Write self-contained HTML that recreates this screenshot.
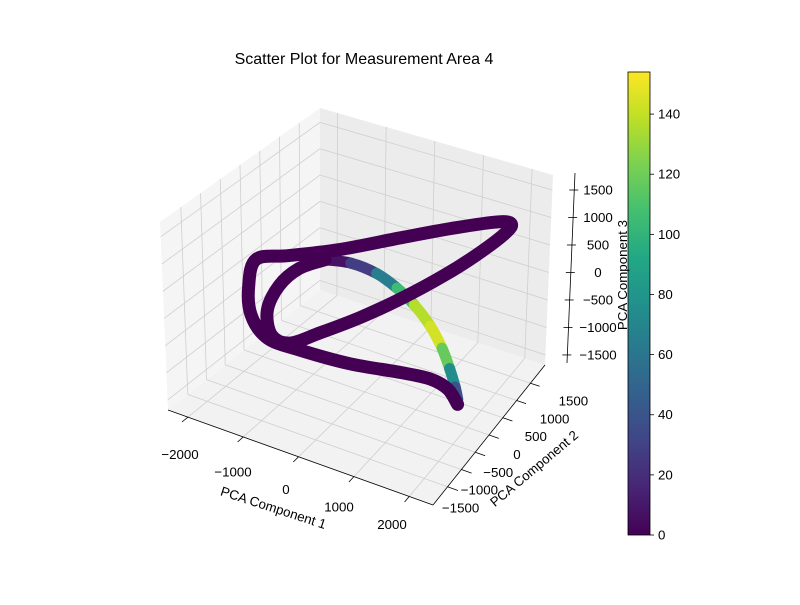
<!DOCTYPE html>
<html><head><meta charset="utf-8"><style>
body{margin:0;background:#fff;}
svg text{font-family:"Liberation Sans","DejaVu Sans",sans-serif;}
</style></head><body>
<svg id="c" width="800" height="600" viewBox="0 0 800 600" xmlns="http://www.w3.org/2000/svg">
<defs>
<linearGradient id="vir" x1="0" y1="1" x2="0" y2="0">
<stop offset="0" stop-color="#440154"/><stop offset="0.1" stop-color="#482475"/><stop offset="0.2" stop-color="#414487"/><stop offset="0.3" stop-color="#355f8d"/><stop offset="0.4" stop-color="#2a788e"/><stop offset="0.5" stop-color="#21918c"/><stop offset="0.6" stop-color="#22a884"/><stop offset="0.7" stop-color="#44bf70"/><stop offset="0.8" stop-color="#7ad151"/><stop offset="0.9" stop-color="#bddf26"/><stop offset="1" stop-color="#fde725"/>
</linearGradient>
</defs>
<text x="364" y="64" font-size="16" text-anchor="middle">Scatter Plot for Measurement Area 4</text>
<g id="box"></g><g id="marks"></g><g id="axes"></g>
<rect x="628" y="72" width="22" height="463" fill="url(#vir)" stroke="#000" stroke-width="0.8"/>
<g id="cbar"></g>
<text transform="translate(272,512) rotate(18)" font-size="13.3" text-anchor="middle">PCA Component 1</text>
<text transform="translate(537,472) rotate(-40)" font-size="13.3" text-anchor="middle">PCA Component 2</text>
<text transform="translate(627,275) rotate(-90)" font-size="13.3" text-anchor="middle">PCA Component 3</text>
</svg>
<script>
const pc1=[1804,1609,1276,690,-288,-1265,-1891,-2204,-2243,-2086,-1461,-483,690,1667,2449,2684,2547,2058,1472,690,-92,-874,-1461,-1813,-1891,-1656,-1265,-776];
const pc3=[-1336,-1124,-1049,-1111,-1264,-1326,-1310,-988,-450,98,357,767,1330,1780,2100,2120,1900,1400,870,230,-354,-885,-1260,-1229,-795,-259,181,488];
const arc1=[-776,-288,201,592,924,1237,1472,1628,1746,1804];
const arc3=[488,574,532,383,179,-106,-433,-749,-1042,-1244];
const arcVal=[5,10,45,85,125,148,140,95,55,25];
const xTicks=[-2000,-1000,0,1000,2000];
const yTicks=[-1500,-1000,-500,0,500,1000,1500];
const zTicks=[-1500,-1000,-500,0,500,1000,1500];
const cTicks=[0,20,40,60,80,100,120,140];
const XMIN=-2360,XMAX=2430,YMIN=-2027,YMAX=2027,ZMIN=-1683,ZMAX=1773,CMAX=154;
const NS="http://www.w3.org/2000/svg";
const L=[168,410],F=[433,505],R=[545,365],B=[320,290];
const LT=[160,222],FT=[441,305],RT=[553,175],BT=[320,108];
function bil(a,b,c,d,u,v){return [(1-u)*(1-v)*a[0]+u*(1-v)*b[0]+u*v*c[0]+(1-u)*v*d[0],(1-u)*(1-v)*a[1]+u*(1-v)*b[1]+u*v*c[1]+(1-u)*v*d[1]];}
function proj(u,v,w){const f=bil(L,F,R,B,u,v),t=bil(LT,FT,RT,BT,u,v);return [(1-w)*f[0]+w*t[0],(1-w)*f[1]+w*t[1]];}
const sx=x=>(x-XMIN)/(XMAX-XMIN), sy=y=>(y-YMIN)/(YMAX-YMIN), sz=z=>(z-ZMIN)/(ZMAX-ZMIN);
function P(x,y,z){return proj(sx(x),sy(y),sz(z));}
function el(tag,attrs,parent){const e=document.createElementNS(NS,tag);for(const k in attrs)e.setAttribute(k,attrs[k]);document.getElementById(parent).appendChild(e);return e;}
function pts(a){return a.map(p=>p[0].toFixed(1)+','+p[1].toFixed(1)).join(' ');}
function smooth(p){let d='M'+p[0][0].toFixed(1)+','+p[0][1].toFixed(1);
 for(let i=0;i<p.length-1;i++){const p0=p[Math.max(0,i-1)],p1=p[i],p2=p[i+1],p3=p[Math.min(p.length-1,i+2)];
  const c1=[p1[0]+(p2[0]-p0[0])/6,p1[1]+(p2[1]-p0[1])/6],c2=[p2[0]-(p3[0]-p1[0])/6,p2[1]-(p3[1]-p1[1])/6];
  d+=' C'+c1.map(v=>v.toFixed(1)).join(',')+' '+c2.map(v=>v.toFixed(1)).join(',')+' '+p2.map(v=>v.toFixed(1)).join(',');}
 return d;}
let e;
e=el('polygon',{points:pts([L,F,R,B]),fill:'#f2f2f2',stroke:'none'},'box');


e=el('polygon',{points:pts([L,B,BT,LT]),fill:'#f5f5f5',stroke:'none'},'box');


e=el('polygon',{points:pts([B,R,RT,BT]),fill:'#ececec',stroke:'none'},'box');


function gl(a,b,name){const g=el('line',{x1:a[0],y1:a[1],x2:b[0],y2:b[1],stroke:'#cfcfcf','stroke-width':0.8},'box');}
xTicks.forEach(x=>{gl(proj(sx(x),0,0),proj(sx(x),1,0),'floor-grid-x');gl(proj(sx(x),1,0),proj(sx(x),1,1),'back-grid-x');});
yTicks.forEach(y=>{gl(proj(0,sy(y),0),proj(1,sy(y),0),'floor-grid-y');gl(proj(0,sy(y),0),proj(0,sy(y),1),'left-grid-y');});
zTicks.forEach(z=>{gl(proj(0,0,sz(z)),proj(0,1,sz(z)),'left-grid-z');gl(proj(0,1,sz(z)),proj(1,1,sz(z)),'back-grid-z');});
const vs=['#440154','#482475','#414487','#355f8d','#2a788e','#21918c','#22a884','#44bf70','#7ad151','#bddf26','#fde725'];
function hex(h){return [1,3,5].map(i=>parseInt(h.substr(i,2),16));}
function vir(t){t=Math.max(0,Math.min(1,t))*10;const i=Math.min(9,Math.floor(t)),f=t-i;const a=hex(vs[i]),b=hex(vs[i+1]);return 'rgb('+a.map((c,k)=>Math.round(c+(b[k]-c)*f)).join(',')+')';}
// colored arc: smooth segments
const ap=arc1.map((x,i)=>P(x,0,arc3[i]));
for(let i=0;i<ap.length-1;i++){const p0=ap[Math.max(0,i-1)],p1=ap[i],p2=ap[i+1],p3=ap[Math.min(ap.length-1,i+2)];
 const c1=[p1[0]+(p2[0]-p0[0])/6,p1[1]+(p2[1]-p0[1])/6],c2=[p2[0]-(p3[0]-p1[0])/6,p2[1]-(p3[1]-p1[1])/6];
 const d='M'+p1.join(',')+' C'+c1.join(',')+' '+c2.join(',')+' '+p2.join(',');
 const s=el('path',{d:d,fill:'none',stroke:vir((arcVal[i]+arcVal[i+1])/2/CMAX),'stroke-width':11,'stroke-linecap':'round'},'marks');
 
 }
const dp=el('path',{d:smooth(pc1.map((x,i)=>P(x,0,pc3[i]))),fill:'none',stroke:'#440154','stroke-width':13,'stroke-linecap':'round','stroke-linejoin':'round'},'marks');


function ln(a,b,name,w){const g=el('line',{x1:a[0],y1:a[1],x2:b[0],y2:b[1],stroke:'#000','stroke-width':w||0.8},'axes');}
function tx(x,y,s,name,anchor){const t=el('text',{x:x,y:y,'font-size':13.3,'text-anchor':anchor||'middle'},'axes');t.textContent=s;}
const fmt=v=>v<0?'\u2212'+(-v):String(v);
ln(L,F,'x-axis-line');ln(F,R,'y-axis-line');
const ZA=[567,363],ZB=[575,173];
ln(ZA,ZB,'z-axis-line');
xTicks.forEach(x=>{const a=proj(sx(x),0,0),b=proj(sx(x),-0.04,0);ln(a,b,'x-tick');tx(286+x/1000*53,494+x/1000*17.5,fmt(x),'x-tick-label');});
yTicks.forEach(y=>{const a=proj(1,sy(y),0),b=proj(1.04,sy(y),0);ln(a,b,'y-tick');tx(517+y/500*18.8,459-y/500*17.8,fmt(y),'y-tick-label');});
zTicks.forEach(z=>{const w=sz(z);const yy=365-190*w;const xx=ZA[0]+(ZB[0]-ZA[0])*(363-yy)/190;ln([xx-5,yy],[xx+4,yy],'z-tick');tx(598,yy+4.5,fmt(z),'z-tick-label');});
cTicks.forEach(c=>{const y=535-463*c/CMAX;const t=el('line',{x1:650,y1:y,x2:654,y2:y,stroke:'#000','stroke-width':0.8},'cbar');
 const l=el('text',{x:658,y:y+4.5,'font-size':13.3},'cbar');l.textContent=c;});
</script>
</body></html>
